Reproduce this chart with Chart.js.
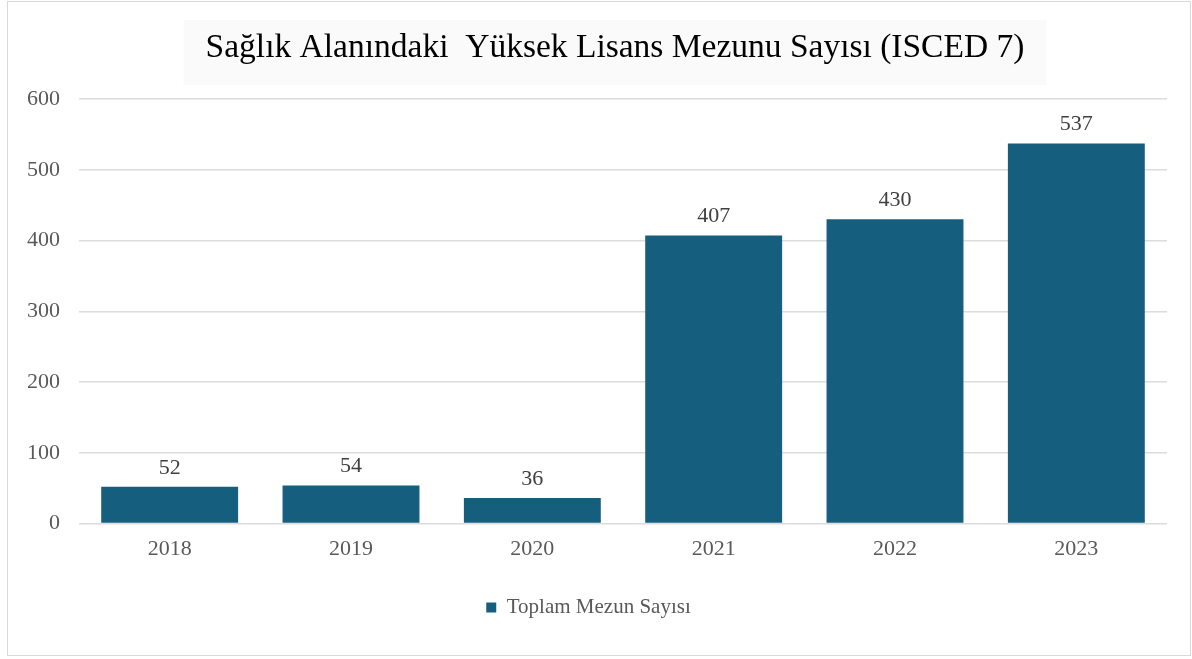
<!DOCTYPE html>
<html>
<head>
<meta charset="utf-8">
<script src="https://cdn.jsdelivr.net/npm/chart.js@4/dist/chart.umd.min.js"></script>
<style>
html,body{margin:0;padding:0;background:#fff;}
#wrap{position:relative;width:1192px;height:659px;}
</style>
</head>
<body>
<div id="wrap"><canvas id="c" width="1192" height="659"></canvas></div>
<script>
const chartTitle = 'Sağlık Alanındaki  Yüksek Lisans Mezunu Sayısı (ISCED 7)';
const categories = ['2018', '2019', '2020', '2021', '2022', '2023'];
const seriesName = 'Toplam Mezun Sayısı';
const values = [52, 54, 36, 407, 430, 537];
const yTicks = [0, 100, 200, 300, 400, 500, 600];

const BAR = '#165E7E';
const SERIF = '"Liberation Serif", "Times New Roman", serif';

const frameAndTitle = {
  id: 'frameAndTitle',
  beforeDraw(chart) {
    const ctx = chart.ctx;
    ctx.save();
    ctx.fillStyle = '#fff';
    ctx.fillRect(0, 0, chart.width, chart.height);
    ctx.strokeStyle = '#d9d9d9';
    ctx.lineWidth = 1;
    ctx.strokeRect(7.5, 1.5, chart.width - 9, chart.height - 5);
    // title
    const ca = chart.chartArea;
    const cx = (ca.left + ca.right) / 2 - 8;
    ctx.font = '33.5px ' + SERIF;
    const w = ctx.measureText(chartTitle).width;
    ctx.fillStyle = '#fafafa';
    ctx.fillRect(cx - w / 2 - 22, 20, w + 44, 65);
    ctx.fillStyle = '#000';
    ctx.textAlign = 'center';
    ctx.textBaseline = 'middle';
    ctx.fillText(chartTitle, cx, 48);
    ctx.restore();
  },
  afterDatasetsDraw(chart) {
    const ctx = chart.ctx;
    const meta = chart.getDatasetMeta(0);
    ctx.save();
    ctx.font = '22px ' + SERIF;
    ctx.fillStyle = '#404040';
    ctx.textAlign = 'center';
    ctx.textBaseline = 'middle';
    meta.data.forEach((el, i) => {
      ctx.fillText(String(chart.data.datasets[0].data[i]), el.x, el.y - 19);
    });
    ctx.restore();
  }
};

new Chart(document.getElementById('c'), {
  type: 'bar',
  data: {
    labels: categories,
    datasets: [{
      label: seriesName,
      data: values,
      backgroundColor: BAR,
      borderWidth: 0,
      barPercentage: 0.755,
      categoryPercentage: 1.0
    }]
  },
  options: {
    responsive: false,
    animation: false,
    devicePixelRatio: 1,
    layout: { padding: { left: 10, right: 25, top: 99, bottom: 31 } },
    plugins: {
      title: { display: false },
      tooltip: { enabled: false },
      legend: {
        display: true,
        position: 'bottom',
        labels: {
          boxWidth: 10,
          boxHeight: 10,
          padding: 24,
          color: '#595959',
          font: { family: SERIF, size: 21 }
        }
      }
    },
    scales: {
      x: {
        grid: { display: false },
        border: { display: false },
        afterFit(scale) { scale.height += 7; },
        ticks: { color: '#595959', font: { family: SERIF, size: 22 }, padding: 4 }
      },
      y: {
        min: 0,
        max: 600,
        afterBuildTicks(scale) { scale.ticks = yTicks.map(v => ({ value: v })); },
        afterFit(scale) { scale.width = 69; },
        grid: { color: '#dcdcdc', lineWidth: 1.5, drawTicks: false },
        border: { display: false },
        ticks: { color: '#595959', font: { family: SERIF, size: 22 }, padding: 19 }
      }
    }
  },
  plugins: [frameAndTitle]
});
</script>
</body>
</html>
